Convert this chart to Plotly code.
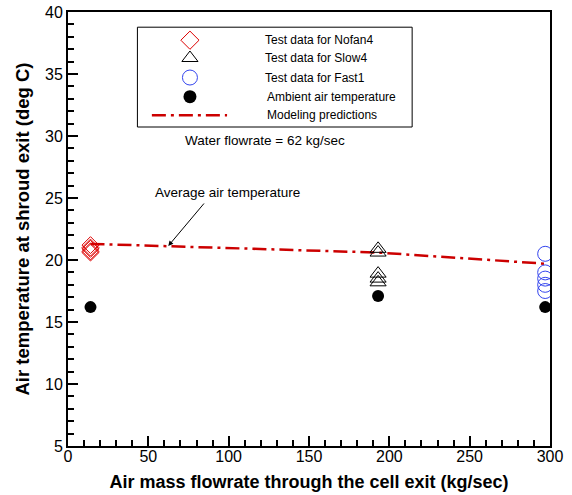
import plotly.graph_objects as go

# Measured exit air temperatures (deg C) vs. air mass flowrate (kg/sec)
nofan4_x = [14, 14, 14, 14, 14]
nofan4_y = [21.2, 21.0, 20.9, 20.7, 20.6]

slow4_x = [193, 193, 193, 193, 193]
slow4_y = [20.9, 20.6, 18.9, 18.5, 18.2]

fast1_x = [297, 297, 297, 297, 297]
fast1_y = [20.5, 19.0, 18.5, 18.0, 17.5]

ambient_x = [14, 193, 297]
ambient_y = [16.2, 17.1, 16.2]

model_x = [14, 193, 297]
model_y = [21.3, 20.6, 19.7]

legend_labels = [
    "Test data for Nofan4",
    "Test data for Slow4",
    "Test data for Fast1",
    "Ambient air temperature",
    "Modeling predictions",
]

RED = "#dd0000"
BLUE = "#3344ee"
FONT = "Liberation Sans, Arial, sans-serif"
DASH = "14px,5px,3px,5px"

fig = go.Figure()

fig.add_trace(go.Scatter(
    x=model_x, y=model_y, mode="lines",
    line=dict(color="#cc0000", width=2.5, dash=DASH),
    showlegend=False,
))
fig.add_trace(go.Scatter(
    x=nofan4_x, y=nofan4_y, mode="markers",
    marker=dict(symbol="diamond-open", size=13, color=RED, line=dict(width=1, color=RED)),
    showlegend=False,
))
fig.add_trace(go.Scatter(
    x=slow4_x, y=slow4_y, mode="markers",
    marker=dict(symbol="triangle-up-open", size=14, color="black", line=dict(width=1, color="black")),
    showlegend=False,
))
fig.add_trace(go.Scatter(
    x=fast1_x, y=fast1_y, mode="markers",
    marker=dict(symbol="circle-open", size=15, color=BLUE, line=dict(width=1, color=BLUE)),
    showlegend=False,
))
fig.add_trace(go.Scatter(
    x=ambient_x, y=ambient_y, mode="markers",
    marker=dict(symbol="circle", size=12, color="black"),
    showlegend=False,
))

# Hand-built legend box drawn on an overlay axis spanning the plot area (0..1)
leg_sym_x = 0.253
leg_rows = [0.935, 0.894, 0.849, 0.805, 0.762]
leg_text_x = [0.4046, 0.4046, 0.4046, 0.4087, 0.4087]
leg_syms = [
    dict(symbol="diamond-open", size=14, color=RED, line=dict(width=1, color=RED)),
    dict(symbol="triangle-up-open", size=14, color="black", line=dict(width=1, color="black")),
    dict(symbol="circle-open", size=15, color=BLUE, line=dict(width=1, color=BLUE)),
    dict(symbol="circle", size=13, color="black"),
]
for m, yy in zip(leg_syms, leg_rows[:4]):
    fig.add_trace(go.Scatter(
        x=[leg_sym_x], y=[yy], mode="markers", marker=m,
        xaxis="x2", yaxis="y2", showlegend=False, hoverinfo="skip",
    ))
fig.add_trace(go.Scatter(
    x=[0.174, 0.330], y=[leg_rows[4], leg_rows[4]], mode="lines",
    line=dict(color="#cc0000", width=2.5, dash=DASH),
    xaxis="x2", yaxis="y2", showlegend=False, hoverinfo="skip",
))

annotations = []
for label, tx, yy in zip(legend_labels, leg_text_x, leg_rows):
    annotations.append(dict(
        x=tx, y=yy, xref="paper", yref="paper", text=label, showarrow=False,
        xanchor="left", yanchor="middle", font=dict(family=FONT, size=12, color="black"),
    ))
annotations.append(dict(
    x=0.409, y=0.705, xref="paper", yref="paper", text="Water flowrate = 62 kg/sec",
    showarrow=False, xanchor="center", yanchor="middle",
    font=dict(family=FONT, size=13.5, color="black"),
))
annotations.append(dict(
    x=0.330, y=0.583, xref="paper", yref="paper", text="Average air temperature",
    showarrow=False, xanchor="center", yanchor="middle",
    font=dict(family=FONT, size=13.5, color="black"),
))
annotations.append(dict(
    x=62.4, y=21.13, xref="x", yref="y", text="", showarrow=True,
    ax=37, ay=-44, arrowhead=2, arrowsize=1, arrowwidth=1, arrowcolor="black",
))

fig.update_layout(
    template="none",
    width=572, height=495,
    margin=dict(l=68, r=22, t=12, b=49),
    paper_bgcolor="white", plot_bgcolor="white",
    font=dict(family=FONT, color="black"),
    annotations=annotations,
    shapes=[dict(
        type="rect", xref="paper", yref="paper",
        x0=0.144, x1=0.714, y0=0.735, y1=0.965,
        line=dict(color="black", width=1), fillcolor="rgba(0,0,0,0)",
    )],
    xaxis=dict(
        range=[0, 300], tick0=0, dtick=50, showgrid=False, zeroline=False, automargin=False,
        showline=True, linecolor="black", linewidth=2, mirror=True,
        ticks="inside", ticklen=10, tickwidth=2, tickcolor="black",
        ticklabelstandoff=-5,
        minor=dict(ticks="inside", ticklen=6, tickwidth=1.5, dtick=10, tickcolor="black", showgrid=False),
        tickfont=dict(family=FONT, size=16, color="black"),
        title=dict(text="<b>Air mass flowrate through the cell exit (kg/sec)</b>",
                   font=dict(family=FONT, size=18, color="black"), standoff=11),
    ),
    yaxis=dict(
        range=[5, 40], tick0=5, dtick=5, showgrid=False, zeroline=False, automargin=False,
        showline=True, linecolor="black", linewidth=2, mirror=True,
        ticks="inside", ticklen=10, tickwidth=2, tickcolor="black",
        minor=dict(ticks="inside", ticklen=6, tickwidth=1.5, dtick=1, tickcolor="black", showgrid=False),
        tickfont=dict(family=FONT, size=16, color="black"),
        title=dict(text="<b>Air temperature at shroud exit (deg C)</b>",
                   font=dict(family=FONT, size=18.5, color="black"), standoff=11),
    ),
    xaxis2=dict(range=[0, 1], overlaying="x", visible=False, fixedrange=True),
    yaxis2=dict(range=[0, 1], overlaying="y", visible=False, fixedrange=True),
)

fig.write_html("out.html")
